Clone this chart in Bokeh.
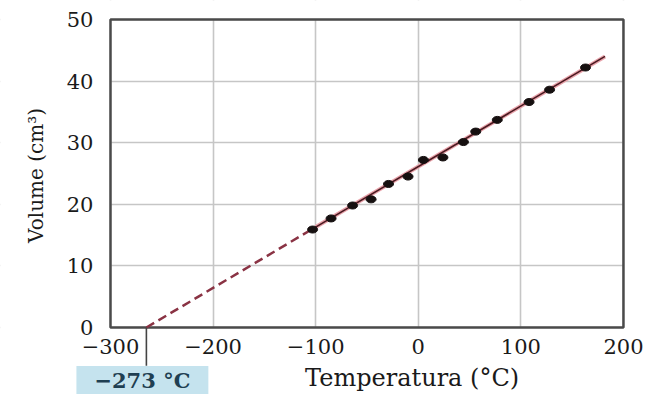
from bokeh.plotting import figure
from bokeh.models import Range1d, FixedTicker, Label
from bokeh.embed import file_html
from bokeh.resources import INLINE

# Data
temps = [-103, -85, -64, -46, -29, -10, 5, 24, 44, 56, 77, 108, 128, 163]
vols = [15.9, 17.7, 19.8, 20.8, 23.3, 24.5, 27.2, 27.6, 30.1, 31.8, 33.7, 36.6, 38.6, 42.2]

# Fitted line as drawn: extrapolated (dashed) part and measured (solid) part
line_T = [-265, -100, 182]
line_V = [0, 16.3, 44.0]

x_ticks = [-300, -200, -100, 0, 100, 200]
x_tick_labels = ["−300", "−200", "−100", "0", "100", "200"]
y_ticks = [0, 10, 20, 30, 40, 50]
y_tick_labels = ["0", "10", "20", "30", "40", "50"]

abs_zero_label = "−273 °C"
x_title = "Temperatura (°C)"
y_title = "Volume (cm³)"

X0, X1 = x_ticks[0], x_ticks[-1]
Y0, Y1 = y_ticks[0], y_ticks[-1]
# visible ranges extend past the data box so that axes and notes fit inside the canvas
XMIN, XMAX = -407.2, 224.4
YMIN, YMAX = -10.88, 53.08

p = figure(width=648, height=394, x_range=Range1d(XMIN, XMAX), y_range=Range1d(YMIN, YMAX),
           output_backend="svg", toolbar_location=None,
           min_border_left=0, min_border_right=0, min_border_top=0, min_border_bottom=0)

p.background_fill_color = "white"
p.border_fill_color = "white"
p.outline_line_color = None

xt = FixedTicker(ticks=x_ticks)
yt = FixedTicker(ticks=y_ticks)
p.xaxis.ticker = xt
p.yaxis.ticker = yt
p.xgrid.ticker = xt
p.ygrid.ticker = yt
p.xaxis.major_label_overrides = dict(zip(x_ticks, x_tick_labels))
p.yaxis.major_label_overrides = dict(zip(y_ticks, y_tick_labels))
p.xaxis.fixed_location = Y0
p.yaxis.fixed_location = X0
p.xaxis.bounds = (X0, X1)
p.yaxis.bounds = (Y0, Y1)

for ax in (p.xaxis, p.yaxis):
    ax.axis_line_color = None
    ax.major_tick_line_color = None
    ax.minor_tick_line_color = None
    ax.major_label_text_font = "DejaVu Serif"
    ax.major_label_text_font_size = "21px"
    ax.major_label_text_color = "#1a1a1a"
p.xaxis.major_label_standoff = 6
p.yaxis.major_label_standoff = 11

for g in (p.xgrid, p.ygrid):
    g.grid_line_color = "#c6c6c6"
    g.grid_line_width = 1.6

# white bands around the data box hide the grid outside it
p.quad(left=[XMIN, XMIN, XMIN, X1], right=[XMAX, XMAX, X0, XMAX],
       bottom=[YMIN, Y1, YMIN, YMIN], top=[Y0, YMAX, YMAX, YMAX],
       fill_color="white", line_color=None)

# frame
p.quad(left=X0, right=X1, bottom=Y0, top=Y1, fill_color=None,
       line_color="#4a4a4a", line_width=2.5)

# dashed extrapolation
p.line(line_T[:2], line_V[:2], line_color="#8a3344", line_width=2.5, line_dash="9 5")
# solid fitted line
p.line(line_T[1:], line_V[1:], line_color="#e8a3ab", line_width=4)
p.line(line_T[1:], line_V[1:], line_color="#4a1a20", line_width=1.6)

# measured points
p.ellipse(x=temps, y=vols, width=10, height=7, width_units="screen", height_units="screen",
          fill_color="#161010", line_color="#161010")

# marker at absolute zero
p.segment(x0=[line_T[0]], y0=[Y0], x1=[line_T[0]], y1=[-6.2], line_color="#444444", line_width=1.6)

p.add_layout(Label(x=line_T[0], y=Y0, x_offset=-4, y_offset=-53, text=abs_zero_label,
                   text_font="DejaVu Serif", text_font_size="21px", text_font_style="bold",
                   text_color="#1f3f52", text_align="center", text_baseline="middle",
                   background_fill_color="#c5e3ee", padding=(18, 2)))

p.add_layout(Label(x=-6, y=Y0, y_offset=-51, text=x_title,
                   text_font="DejaVu Serif", text_font_size="24px",
                   text_color="#1a1a1a", text_align="center", text_baseline="middle"))

p.add_layout(Label(x=X0, y=(Y0 + Y1) / 2, x_offset=-74, y_offset=-2, text=y_title,
                   angle=90, angle_units="deg",
                   text_font="DejaVu Serif", text_font_size="20px",
                   text_color="#1a1a1a", text_align="center", text_baseline="middle"))

open("out.html", "w").write(file_html(p, INLINE))
